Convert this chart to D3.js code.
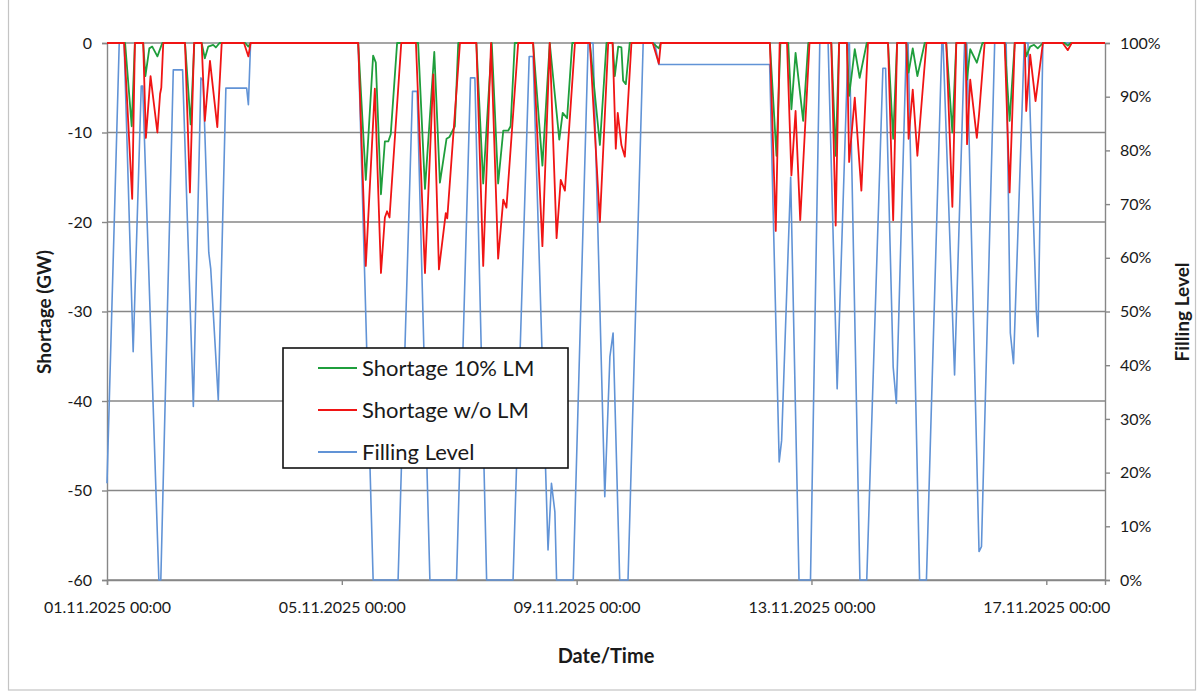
<!DOCTYPE html>
<html>
<head>
<meta charset="utf-8">
<script src="https://cdn.jsdelivr.net/npm/d3@7"></script>
<style>
  html, body { margin: 0; padding: 0; background: #fff; }
  svg { display: block; font-family: Lato, "Open Sans", sans-serif; }
</style>
</head>
<body>
<svg id="chart" width="1203" height="699"></svg>
<script>
// ---- data: [hours since 01.11.2025 00:00, value] ----
const shortage10LM = [
  [0,0],[7.4,0],[10.1,-9.3],[11.4,0],[14.8,0],[15.7,-3.7],[17.3,-0.6],[18.5,-0.4],[20.6,-1.5],[22.6,0],
  [31.9,0],[34.2,-9.1],[35.7,0],[38.7,0],[40,-1.7],[41.4,-0.4],[43.4,-0.2],[44.5,-0.5],[46,0],
  [56.5,0],[57.8,-0.4],[58.7,0],
  [102.7,0],[105.8,-15.3],[108.8,-1.4],[109.9,-2.2],[112,-16.9],[113.6,-11],[115,-11],[116,-10.2],[118.6,0],
  [127.2,0],[130,-16.3],[133.8,-1],[136.1,-15.6],[138.8,-10.7],[140,-10.5],[142.2,-9.3],[143.6,0],
  [151,0],[153.8,-15.7],[157.3,0],[159.9,-15.7],[162,-9.8],[164,-9.8],[165,-9.3],[166.7,0],
  [174.2,0],[178,-13.7],[181,0],[184.9,-10.8],[186.3,-7.8],[188.1,-8.4],[190.2,0],
  [197.4,0],[201.5,-11.4],[204.2,0],[206.7,0],[207.6,-3.7],[209,-0.4],[210.3,-0.5],[211,-4.2],[212.1,-4.6],[213.7,0],
  [223.1,0],[225.6,-0.6],[226.4,0],
  [271,0],[273.7,-12.6],[275.3,0],[278.5,0],[279.8,-7.4],[281.5,-1.1],[284.6,-8.7],[286.7,0],
  [296.1,0],[297.9,-12.6],[299.3,0],[302.5,0],[303.4,-5.9],[305.7,-0.7],[307.7,-3.9],[310.6,0],
  [319.3,0],[321.4,-10.7],[323,0],[326.8,0],[327.7,-3.3],[329.4,-0.6],[331.3,-3.7],[334.3,0],
  [343.1,0],[345.6,-10],[347.2,0],[351,0],[351.6,-4.1],[352.9,-0.7],[355.6,-2.2],[357.9,0],
  [367,0],[369,-8.7],[371.1,0],[375.2,0],[375.8,-1.5],[377.4,-0.4],[379,-0.2],[380.5,-0.6],[382.6,0],
  [391.5,0],[392.8,-0.3],[394,0],[408,0]
];

const shortageNoLM = [
  [0,0],[7,0],[10.3,-17.4],[11.4,0],[14.8,0],[15.9,-10.6],[17.8,-3.7],[20.6,-10],[21.7,-5.7],[22.2,-5],[23,0],
  [31.9,0],[33.9,-16.7],[35.6,0],[38.7,0],[40,-8.7],[42.1,-2],[45.1,-9.4],[46.9,0],
  [56,0],[57.8,-1.5],[58.7,0],
  [102.7,0],[105.8,-24.9],[109.5,-5.1],[112,-25.7],[113.6,-19.5],[114.5,-18.8],[115.5,-19.5],[120.3,0],
  [126.3,0],[130,-25.7],[133.4,-3.5],[135.7,-25.3],[138.5,-19],[139.1,-19.6],[144.3,0],
  [151,0],[153.8,-24.9],[157,0],[159.9,-24.1],[162,-17.5],[163.3,-18.4],[168.1,0],
  [174.2,0],[178,-22.7],[181,0],[183.8,-21.8],[185.5,-15.3],[187.2,-16.5],[191.3,0],
  [197.4,0],[201.5,-20],[204.9,0],[206.7,0],[208,-11.8],[208.8,-7.8],[210.3,-11.4],[211.7,-12.7],[214.4,0],
  [223.1,0],[225.6,-2.3],[226.4,0],
  [271,0],[273.4,-21],[275,0],[278,0],[279.8,-14.8],[281.5,-7.6],[283.4,-19.8],[287.2,0],
  [296.1,0],[297.9,-20.4],[299.3,0],[302.5,0],[303.4,-13.3],[305.7,-6.1],[308.4,-16.5],[311.1,0],
  [319.3,0],[321.4,-19.8],[323,0],[326.8,0],[327.7,-10.7],[329.4,-5.2],[331.3,-12.6],[335,0],
  [343.1,0],[345.6,-18.3],[347.2,0],[351,0],[351.6,-11.3],[352.9,-4.1],[355.6,-10.6],[356.5,-8],[358.8,0],
  [367,0],[369,-16.7],[371.1,0],[375.2,0],[375.8,-7.6],[377.4,-1.3],[379.6,-6.5],[382.6,0],
  [390.7,0],[392.8,-0.8],[394.4,0],[408,0]
];

const fillingLevel = [
  [0,18],[5,100],[7,100],[10.7,42.5],[14,92],[14.6,92],[21.2,0],[22,0],[27.1,95],[30.9,95],
  [35.3,32.3],[38.4,93.5],[39.3,93],[41.6,61],[42.4,58],[45.5,33.5],[48.6,91.6],[57.1,91.6],[57.8,88.5],[58.7,100],
  [102.7,100],[108.8,0],[119,0],[124.9,91],[126.8,91],[132,0],[142.9,0],[148.6,93.5],[150.4,93.5],[155.2,0],
  [166,0],[172.6,97.5],[174.2,97.5],[180.3,5.6],[181.7,18],[183.1,12.7],[183.8,0],[190.6,0],[196.7,100],[198.7,100],
  [203.5,15.5],[205.6,41.6],[206.9,46],[209.6,0],[213,0],[219.2,100],
  [223.9,100],[225.6,96],[270.9,96],
  [274.8,22],[275.8,26],[279.5,75],[282.9,0],[287.6,0],[291.4,100],[294.8,100],[298.5,35.6],[303,100],[303.5,100],
  [307.8,0],[310.6,0],[317.2,95.3],[318.3,95.3],[321.4,39.7],[322.7,32.9],[326.8,100],[327.5,100],[332.2,0],[335,0],
  [341.3,100],[341.8,100],[346.5,38.2],[350.6,100],[351.5,100],[356.5,5.3],[357.5,6.2],[362.9,100],[367.6,100],
  [369.3,46],[370.6,40.3],[375,100],[376.5,100],[379.9,50.3],[380.6,45.3],[382.6,100],[408,100]
];

const dateTicks = ['2025-11-01', '2025-11-05', '2025-11-09', '2025-11-13', '2025-11-17'];
const gwTicks = [0, -10, -20, -30, -40, -50, -60];
const pctTicks = [0, 10, 20, 30, 40, 50, 60, 70, 80, 90, 100];

const legendItems = [
  { label: 'Shortage 10% LM', color: '#1f9e3c' },
  { label: 'Shortage w/o LM', color: '#f01414' },
  { label: 'Filling Level',   color: '#6193d6' }
];

// ---- layout ----
const svg = d3.select('#chart');
const m = { left: 107, right: 1105, top: 43, bottom: 580 };
const t0 = new Date(Date.UTC(2025, 10, 1));
const toDate = h => new Date(t0.getTime() + h * 3600e3);

const x = d3.scaleUtc()
  .domain([t0, new Date(Date.UTC(2025, 10, 18))])
  .range([m.left, m.right]);
const yGW = d3.scaleLinear().domain([-60, 0]).range([m.bottom, m.top]);
const yPct = d3.scaleLinear().domain([0, 100]).range([m.bottom, m.top]);

const gridCol = '#878787';
const textCol = '#1a1a1a';

// outer chart-area border
svg.append('rect')
  .attr('x', 8.5).attr('y', -2).attr('width', 1187).attr('height', 692)
  .attr('fill', 'none').attr('stroke', '#c4c4c4').attr('stroke-width', 1.2);

// horizontal gridlines
svg.append('g').selectAll('line')
  .data(gwTicks)
  .join('line')
  .attr('x1', m.left).attr('x2', m.right)
  .attr('y1', d => yGW(d)).attr('y2', d => yGW(d))
  .attr('stroke', gridCol).attr('stroke-width', 1.4);

// left axis (plain hyphen for negatives, as in the original)
const gLeft = svg.append('g').attr('transform', `translate(${m.left},0)`)
  .call(d3.axisLeft(yGW).tickValues(gwTicks).tickSize(5).tickPadding(10).tickFormat(d => String(d)));
// right axis
const gRight = svg.append('g').attr('transform', `translate(${m.right},0)`)
  .call(d3.axisRight(yPct).tickValues(pctTicks).tickSize(5).tickPadding(10).tickFormat(d => d + '%'));
// bottom axis
const gBottom = svg.append('g').attr('transform', `translate(0,${m.bottom})`)
  .call(d3.axisBottom(x)
    .tickValues(dateTicks.map(s => new Date(s + 'T00:00:00Z')))
    .tickSize(5).tickPadding(17)
    .tickFormat(d3.utcFormat('%d.%m.%Y %H:%M')));

[gLeft, gRight, gBottom].forEach(g => {
  g.select('.domain').attr('stroke', gridCol).attr('stroke-width', 1.4);
  g.selectAll('.tick line').attr('stroke', gridCol).attr('stroke-width', 1.4);
  g.selectAll('.tick text')
    .attr('fill', textCol)
    .attr('font-family', 'Lato, sans-serif')
    .attr('font-size', 16);
});

// ---- series ----
const lineGW = d3.line().x(d => x(toDate(d[0]))).y(d => yGW(d[1]));
const linePct = d3.line().x(d => x(toDate(d[0]))).y(d => yPct(d[1]));

svg.append('path').datum(fillingLevel)
  .attr('d', linePct).attr('fill', 'none')
  .attr('stroke', legendItems[2].color).attr('stroke-width', 1.6)
  .attr('stroke-linejoin', 'round');
svg.append('path').datum(shortage10LM)
  .attr('d', lineGW).attr('fill', 'none')
  .attr('stroke', legendItems[0].color).attr('stroke-width', 1.8)
  .attr('stroke-linejoin', 'round');
svg.append('path').datum(shortageNoLM)
  .attr('d', lineGW).attr('fill', 'none')
  .attr('stroke', legendItems[1].color).attr('stroke-width', 1.8)
  .attr('stroke-linejoin', 'round');

// ---- axis titles ----
svg.append('text')
  .attr('transform', 'translate(51,312) rotate(-90)')
  .attr('text-anchor', 'middle')
  .attr('font-size', 19).attr('font-weight', 700).attr('fill', textCol)
  .text('Shortage (GW)');
svg.append('text')
  .attr('transform', 'translate(1189,312) rotate(-90)')
  .attr('text-anchor', 'middle')
  .attr('font-size', 19).attr('font-weight', 700).attr('fill', textCol)
  .text('Filling Level');
svg.append('text')
  .attr('x', 606).attr('y', 663)
  .attr('text-anchor', 'middle')
  .attr('font-size', 20).attr('font-weight', 700).attr('fill', textCol)
  .text('Date/Time');

// ---- legend ----
const lg = svg.append('g').attr('transform', 'translate(283,348)');
lg.append('rect')
  .attr('width', 285).attr('height', 120)
  .attr('fill', '#fff').attr('stroke', '#111').attr('stroke-width', 1.6);
const rows = lg.selectAll('g.item').data(legendItems).join('g')
  .attr('class', 'item')
  .attr('transform', (d, i) => `translate(0,${20 + i * 42})`);
rows.append('line')
  .attr('x1', 35).attr('x2', 74)
  .attr('stroke', d => d.color).attr('stroke-width', 1.8);
rows.append('text')
  .attr('x', 79).attr('dy', '0.35em')
  .attr('font-size', 22).attr('fill', textCol)
  .text(d => d.label);
</script>
</body>
</html>
